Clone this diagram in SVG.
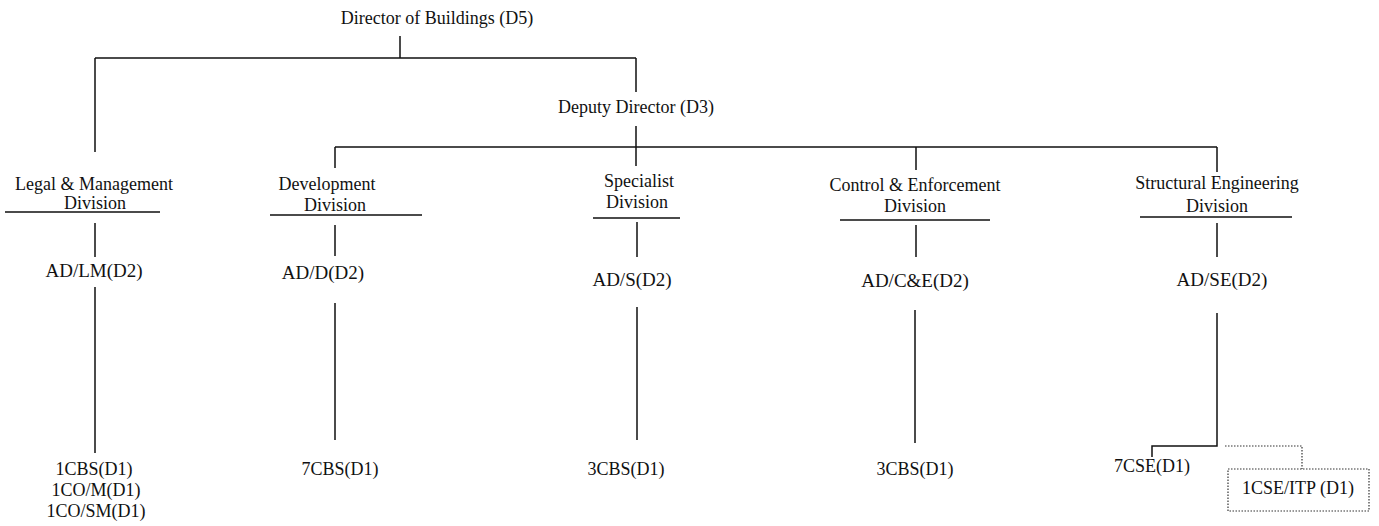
<svg xmlns="http://www.w3.org/2000/svg" width="1379" height="526" viewBox="0 0 1379 526">
<style>
text{font-family:"Liberation Serif","Times New Roman",serif;font-size:18px;fill:#111;text-anchor:middle}
.ad{font-size:19px}
.ln{stroke:#111;stroke-width:1.5;fill:none}
.dot{stroke:#333;stroke-width:1.2;fill:none;stroke-dasharray:1.5 1.5}
</style>
<rect width="1379" height="526" fill="#fff"/>
<g id="connectors">
<path class="ln" d="M400 36V58M95 58H636M95 58V152M636 58V92"/>
<path class="ln" d="M636 126V147M335 147H1217M335 147V168M636 147V166M916 147V170M1217 147V172"/>
<path class="ln" d="M5 212H160M270 215H422M593 218H680M840 220H990M1140 217H1292"/>
<path class="ln" d="M95 223V257M335 225V256M637 222V257M916 225V257M1217 223V257"/>
<path class="ln" d="M95 287V453M335 303V440M637 307V440M915 310V443M1217 313V446H1152V457"/>
<path class="dot" d="M1225 446H1302V469"/>
</g>
<g id="director"><text x="437" y="24">Director of Buildings (D5)</text></g>
<g id="deputy"><text x="636" y="113">Deputy Director (D3)</text></g>
<g id="legal"><text x="94" y="190">Legal &amp; Management</text><text x="95" y="209">Division</text></g>
<g id="development"><text x="327" y="190">Development</text><text x="335" y="211">Division</text></g>
<g id="specialist"><text x="639" y="187">Specialist</text><text x="637" y="208">Division</text></g>
<g id="control"><text x="915" y="191">Control &amp; Enforcement</text><text x="915" y="212">Division</text></g>
<g id="structural"><text x="1217" y="189">Structural Engineering</text><text x="1217" y="212">Division</text></g>
<g id="ad-lm"><text class="ad" x="94" y="277">AD/LM(D2)</text></g>
<g id="ad-d"><text class="ad" x="323" y="279">AD/D(D2)</text></g>
<g id="ad-s"><text class="ad" x="632" y="286">AD/S(D2)</text></g>
<g id="ad-ce"><text class="ad" x="915" y="287">AD/C&amp;E(D2)</text></g>
<g id="ad-se"><text class="ad" x="1222" y="286">AD/SE(D2)</text></g>
<g id="lm-staff"><text x="94" y="475">1CBS(D1)</text><text x="96" y="496">1CO/M(D1)</text><text x="96" y="517">1CO/SM(D1)</text></g>
<g id="d-staff"><text x="340" y="475">7CBS(D1)</text></g>
<g id="s-staff"><text x="626" y="475">3CBS(D1)</text></g>
<g id="ce-staff"><text x="915" y="475">3CBS(D1)</text></g>
<g id="se-staff"><text x="1152" y="472">7CSE(D1)</text></g>
<g id="se-itp"><rect class="dot" x="1228" y="469" width="141" height="42"/><text x="1298" y="494">1CSE/ITP (D1)</text></g>
</svg>
